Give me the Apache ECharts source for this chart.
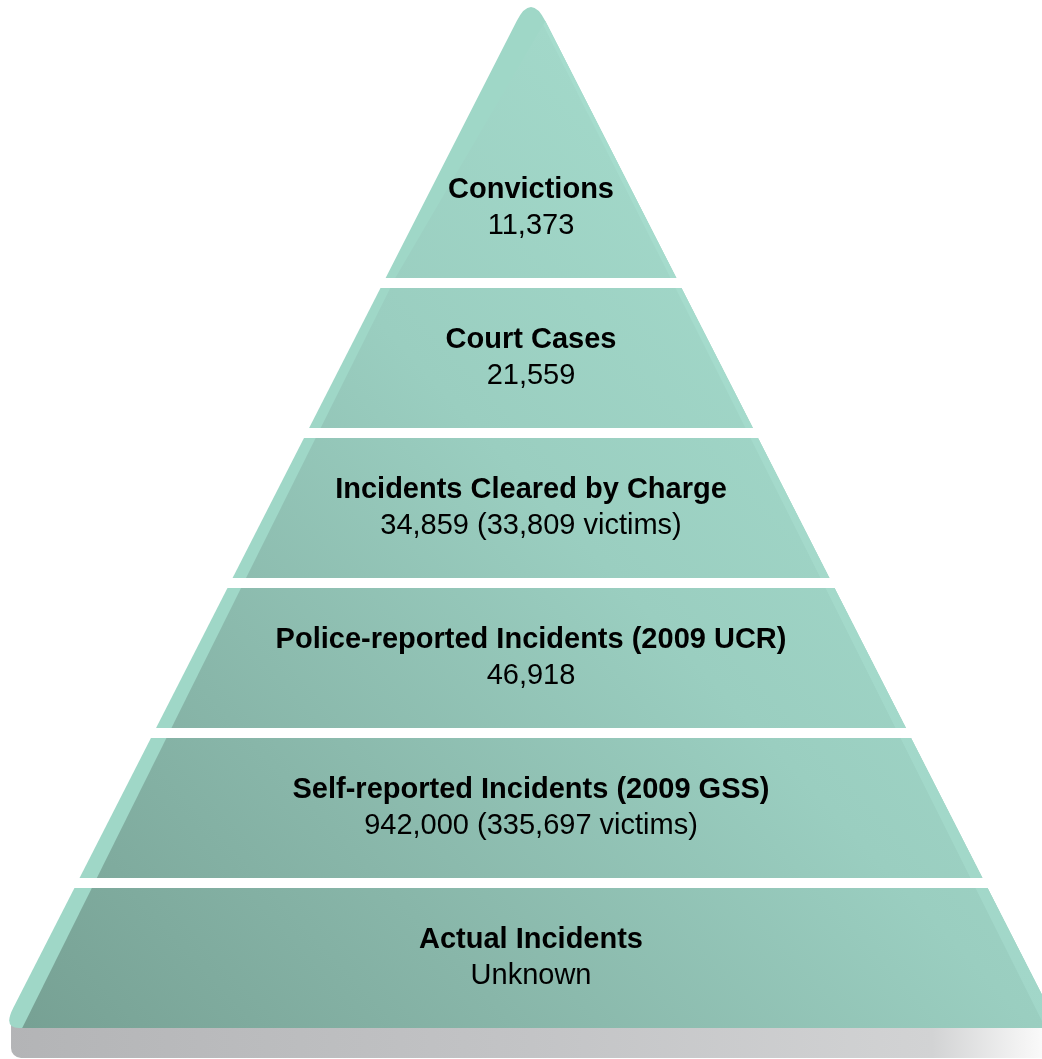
<!DOCTYPE html>
<html><head><meta charset="utf-8">
<script src="https://cdn.jsdelivr.net/npm/echarts@6/dist/echarts.min.js"></script>
<style>html,body{margin:0;padding:0;background:#fff;overflow:hidden}#c{width:1042px;height:1059px}</style>
</head><body><div id="c"></div>
<script>
// Pyramid levels, top to bottom
const levelTitles = [
  'Convictions',
  'Court Cases',
  'Incidents Cleared by Charge',
  'Police-reported Incidents (2009 UCR)',
  'Self-reported Incidents (2009 GSS)',
  'Actual Incidents'
];
const levelValues = [
  '11,373',
  '21,559',
  '34,859 (33,809 victims)',
  '46,918',
  '942,000 (335,697 victims)',
  'Unknown'
];
// height of the apex in level units (each level = 1 unit, top level is taller)
const apexLevel = 6.9;

const n = levelTitles.length;
const FONT = '"Liberation Sans", Arial, Helvetica, sans-serif';

function renderItem(params, api) {
  const i = params.dataIndex;
  const b = api.value(1);
  const half = v => (apexLevel - v) / apexLevel;
  const P = (s, v) => api.coord([s * half(v), v]);
  const unitPx = api.coord([0, 0])[1] - api.coord([0, 1])[1];
  const gapPx = 10;
  const isTop = b === n - 1;
  const isBottom = b === 0;
  const vB = b;
  const vT = isTop ? apexLevel : b + 1 - gapPx / unitPx;
  const bl = P(-1, vB), br = P(1, vB), tl = P(-1, vT), tr = P(1, vT);
  const apex = api.coord([0, apexLevel]);
  const k = (br[0] - apex[0]) / (br[1] - apex[1]);
  const hwAt = y => k * (y - apex[1]);
  const sL = y => 6 + 0.025 * hwAt(y);
  const sR = y => 3 + 0.02 * hwAt(y);
  const f = p => p[0].toFixed(2) + ' ' + p[1].toFixed(2);

  const g0 = api.coord([-1, 0]);
  const g1 = api.coord([0.5, 4.9]);
  const grad = new echarts.graphic.LinearGradient(g0[0], g0[1], g1[0], g1[1], [
    { offset: 0, color: '#76a093' },
    { offset: 0.35, color: '#88b6a9' },
    { offset: 0.7, color: '#9acec0' },
    { offset: 1, color: '#a2d8c9' }
  ], true);
  const bevel = '#9fd7c7';

  const children = [];
  let outer, inner, rstrip;
  const RD = 28;
  if (isTop) {
    const ql = [apex[0] - k * RD, apex[1] + RD];
    const qr = [apex[0] + k * RD, apex[1] + RD];
    outer = 'M' + f(bl) + 'L' + f(ql) + 'Q' + f(apex) + ' ' + f(qr) + 'L' + f(br) + 'Z';
    inner = 'M' + f([bl[0] + sL(bl[1]), bl[1]]) + 'L' + f(qr) + 'L' + f(br) + 'Z';
    rstrip = 'M' + f(qr) + 'L' + f(br) + 'L' + f([br[0] - sR(br[1]), br[1]]) + 'L' + f([qr[0] - 2, qr[1] + 4]) + 'Z';
  } else if (isBottom) {
    const d = 20, h = 16;
    const lu = [bl[0] + k * d, bl[1] - d], lr = [bl[0] + h, bl[1]];
    const ru = [br[0] - k * d, br[1] - d], rl = [br[0] - h, br[1]];
    outer = 'M' + f(tl) + 'L' + f(lu) + 'Q' + f(bl) + ' ' + f(lr) + 'L' + f(rl) + 'Q' + f(br) + ' ' + f(ru) + 'L' + f(tr) + 'Z';
    inner = 'M' + f([tl[0] + sL(tl[1]), tl[1]]) + 'L' + f(tr) + 'L' + f(ru) + 'Q' + f(br) + ' ' + f(rl) + 'L' + f([bl[0] + sL(bl[1]), bl[1]]) + 'Z';
    rstrip = 'M' + f(tr) + 'L' + f(br) + 'L' + f([br[0] - sR(br[1]), br[1]]) + 'L' + f([tr[0] - sR(tr[1]), tr[1]]) + 'Z';
    // shadow under the base
    const sg = new echarts.graphic.LinearGradient(bl[0], 0, br[0], 0, [
      { offset: 0, color: '#b3b4b6' },
      { offset: 0.5, color: '#c3c4c6' },
      { offset: 0.88, color: '#d2d3d4' },
      { offset: 0.965, color: '#f3f3f3' },
      { offset: 1, color: '#ffffff' }
    ], true);
    children.push({
      type: 'rect',
      shape: { x: bl[0] + 8, y: bl[1] - 12, width: br[0] - bl[0] - 16, height: 42, r: [0, 0, 10, 10] },
      style: { fill: sg }
    });
  } else {
    outer = 'M' + f(tl) + 'L' + f(bl) + 'L' + f(br) + 'L' + f(tr) + 'Z';
    inner = 'M' + f([tl[0] + sL(tl[1]), tl[1]]) + 'L' + f([bl[0] + sL(bl[1]), bl[1]]) + 'L' + f(br) + 'L' + f(tr) + 'Z';
    rstrip = 'M' + f(tr) + 'L' + f(br) + 'L' + f([br[0] - sR(br[1]), br[1]]) + 'L' + f([tr[0] - sR(tr[1]), tr[1]]) + 'Z';
  }
  children.push({ type: 'path', shape: { pathData: outer }, style: { fill: bevel } });
  children.push({ type: 'path', shape: { pathData: inner }, style: { fill: grad } });
  children.push({ type: 'path', shape: { pathData: rstrip }, style: { fill: 'rgba(172,228,212,0.4)' } });
  children.push({
    type: 'text',
    x: apex[0],
    y: bl[1] - 70,
    style: {
      text: '{t|' + levelTitles[i] + '}\n{v|' + levelValues[i] + '}',
      align: 'center',
      verticalAlign: 'middle',
      rich: {
        t: { fontFamily: FONT, fontSize: 29, fontWeight: 'bold', color: '#0d0d0d', lineHeight: 36, align: 'center' },
        v: { fontFamily: FONT, fontSize: 29, color: '#0d0d0d', lineHeight: 36, align: 'center' }
      }
    }
  });
  return { type: 'group', children };
}

const chart = echarts.init(document.getElementById('c'), null, { renderer: 'canvas' });
chart.setOption({
  animation: false,
  backgroundColor: '#ffffff',
  grid: { left: 0, right: 0, top: 0, bottom: 31, containLabel: false },
  xAxis: { type: 'value', min: -1.0057, max: 0.9678, show: false },
  yAxis: { type: 'value', min: 0, max: 6.8533, show: false },
  series: [{
    type: 'custom',
    clip: false,
    renderItem: renderItem,
    data: levelTitles.map((t, i) => ({ name: t, value: [0, n - 1 - i] }))
  }]
});
</script>
</body></html>
